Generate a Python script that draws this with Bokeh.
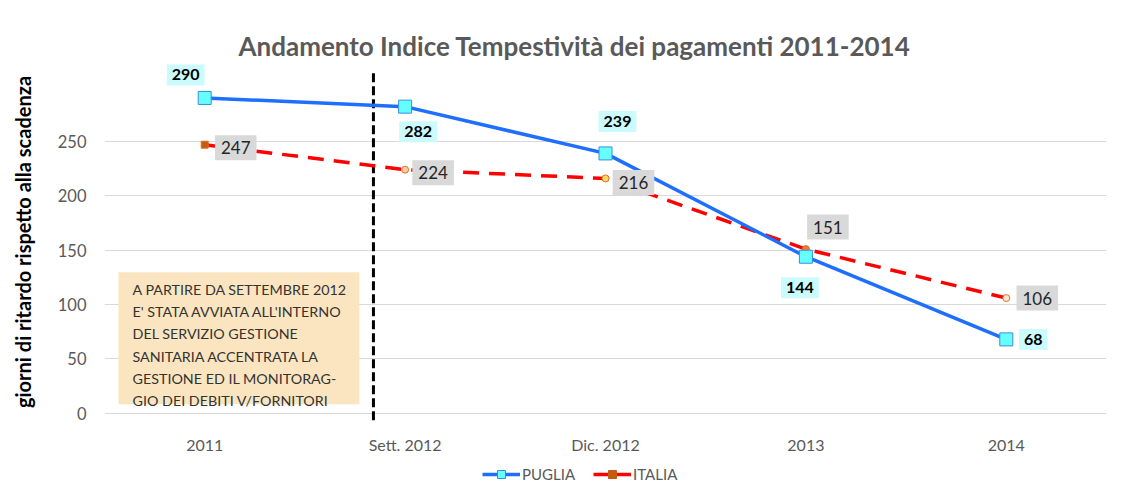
from bokeh.plotting import figure
from bokeh.layouts import column
from bokeh.models import (ColumnDataSource, FactorRange, Range1d, FixedTicker,
                          BoxAnnotation, Label, Legend, LegendItem)
from bokeh.core.properties import value
from bokeh.embed import file_html
from bokeh.resources import INLINE

# ---- data ----
categories = ["2011", "Sett. 2012", "Dic. 2012", "2013", "2014"]
puglia = [290, 282, 239, 144, 68]
italia = [247, 224, 216, 151, 106]
y_ticks = [0, 50, 100, 150, 200, 250]
note_lines = [
    "A PARTIRE DA SETTEMBRE 2012",
    "E' STATA AVVIATA ALL'INTERNO",
    "DEL SERVIZIO GESTIONE",
    "SANITARIA ACCENTRATA LA",
    "GESTIONE ED IL MONITORAG-",
    "GIO DEI DEBITI V/FORNITORI",
]

# ---- label placement (pixels) and marker styles ----
puglia_dx = [-19, 13, 12, -6, 27]
puglia_dy = [-23, 25, -32, 31, 0]
italia_dx = [31, 28, 28, 22, 31]
italia_dy = [3, 3, 4, -22, 0]
italia_markers = ["square", "circle", "circle", "circle", "circle"]
italia_fill = ["#c55a11", "#f8cbad", "#ffd966", "#ed7d31", "#fbe5d6"]

FONT = "Lato"
GRAY = "#595959"
BLUE = "#1f6fff"
RED = "#ff0000"

p = figure(x_range=FactorRange(*categories), y_range=Range1d(-7.5, 322.6),
           frame_width=1002, frame_height=359,
           min_border_left=104, min_border_right=31, min_border_top=62, min_border_bottom=30,
           output_backend="svg", toolbar_location=None)
p.outline_line_color = None
p.background_fill_color = "white"

p.title.text = "Andamento Indice Tempestività dei pagamenti 2011-2014"
p.title.align = "left"
p.title.offset = 134
p.title.standoff = 2
p.title.text_font = FONT
p.title.text_font_size = "26px"
p.title.text_font_style = "bold"
p.title.text_color = GRAY

# axes
p.yaxis.ticker = FixedTicker(ticks=y_ticks)
p.yaxis.axis_line_color = None
p.yaxis.major_tick_line_color = None
p.yaxis.minor_tick_line_color = None
p.yaxis.major_label_text_font = FONT
p.yaxis.major_label_text_font_size = "16.5px"
p.yaxis.major_label_text_color = GRAY
p.yaxis.major_label_standoff = 12
p.yaxis.axis_label = "giorni di ritardo rispetto alla scadenza"
p.yaxis.axis_label_text_font = FONT
p.yaxis.axis_label_text_font_size = "20px"
p.yaxis.axis_label_text_font_style = "bold"
p.yaxis.axis_label_text_color = "black"
p.yaxis.axis_label_standoff = 20

p.xaxis.axis_line_color = None
p.xaxis.major_tick_line_color = None
p.xaxis.major_label_text_font = FONT
p.xaxis.major_label_text_font_size = "16px"
p.xaxis.major_label_text_color = GRAY
p.xaxis.major_label_standoff = 7

p.xgrid.grid_line_color = None
p.ygrid.grid_line_color = "#d9d9d9"
p.ygrid.grid_line_width = 1

# note box
p.add_layout(BoxAnnotation(left=0.07, right=1.272, top=129.7, bottom=8.3,
                           fill_color="#fbe5c0", fill_alpha=1, line_color=None, level="underlay"))
p.add_layout(Label(x=0.07, y=121.5, x_offset=14, text="\n".join(note_lines),
                   text_align="left", text_baseline="top", text_font=FONT,
                   text_font_size="14.3px", text_color="#333333", text_line_height=1.3))

# vertical dashed separator
p.segment(x0=[1.342], y0=[-6.4], x1=[1.342], y1=[313], line_color="black",
          line_width=3, line_dash="9 4")

src = ColumnDataSource(dict(cat=categories, puglia=puglia, italia=italia,
                            plab=[str(v) for v in puglia], ilab=[str(v) for v in italia],
                            pdx=puglia_dx, pdy=puglia_dy, idx=italia_dx, idy=italia_dy,
                            imark=italia_markers, ifill=italia_fill))

# ITALIA
p.line("cat", "italia", source=src, line_color=RED, line_width=3.5, line_dash="16 10")
p.scatter("cat", "italia", source=src, marker="imark", size=7,
          fill_color="ifill", line_color="#e07020", line_width=1)
# PUGLIA
p.line("cat", "puglia", source=src, line_color=BLUE, line_width=3.5)
p.scatter("cat", "puglia", source=src, marker="square", size=13,
          fill_color="#66ffff", line_color="#3a8ee0", line_width=1)

# labels
p.text("cat", "puglia", text="plab", source=src, x_offset="pdx", y_offset="pdy",
       text_align="center", text_baseline="middle", text_font=value(FONT),
       text_font_size="16px", text_font_style="bold", text_color="black",
       background_fill_color="#ccfbfd", padding=5)
p.text("cat", "italia", text="ilab", source=src, x_offset="idx", y_offset="idy",
       text_align="center", text_baseline="middle", text_font=value(FONT),
       text_font_size="17px", text_color="#262626",
       background_fill_color="#d9d9d9", padding=6)

# ---- legend strip below the chart (proxy glyphs placed off-range) ----
lg = figure(width=1137, height=50, min_border=0, x_range=Range1d(0, 1), y_range=Range1d(0, 1),
            x_axis_type=None, y_axis_type=None, output_backend="svg", toolbar_location=None)
lg.outline_line_color = None
lg.grid.visible = False
off = dict(x=[-10, -9], y=[-10, -10])
pl = lg.line(line_color=BLUE, line_width=3.5, **off)
pm = lg.scatter(marker="square", size=11, fill_color="#66ffff", line_color="#3a8ee0", **off)
il = lg.line(line_color=RED, line_width=3.5, **off)
im = lg.scatter(marker="square", size=8, fill_color="#c55a11", line_color="#c55a11", **off)
legend = Legend(items=[LegendItem(label="PUGLIA", renderers=[pl, pm]),
                       LegendItem(label="ITALIA", renderers=[il, im])],
                orientation="horizontal", location=(378, 22),
                label_text_font=FONT, label_text_font_size="15px", label_text_color=GRAY,
                border_line_color=None, background_fill_alpha=0,
                glyph_width=38, spacing=18, label_standoff=2, padding=4, margin=0)
lg.add_layout(legend, "center")

open("out.html", "w").write(file_html(column(p, lg, spacing=0), INLINE))
